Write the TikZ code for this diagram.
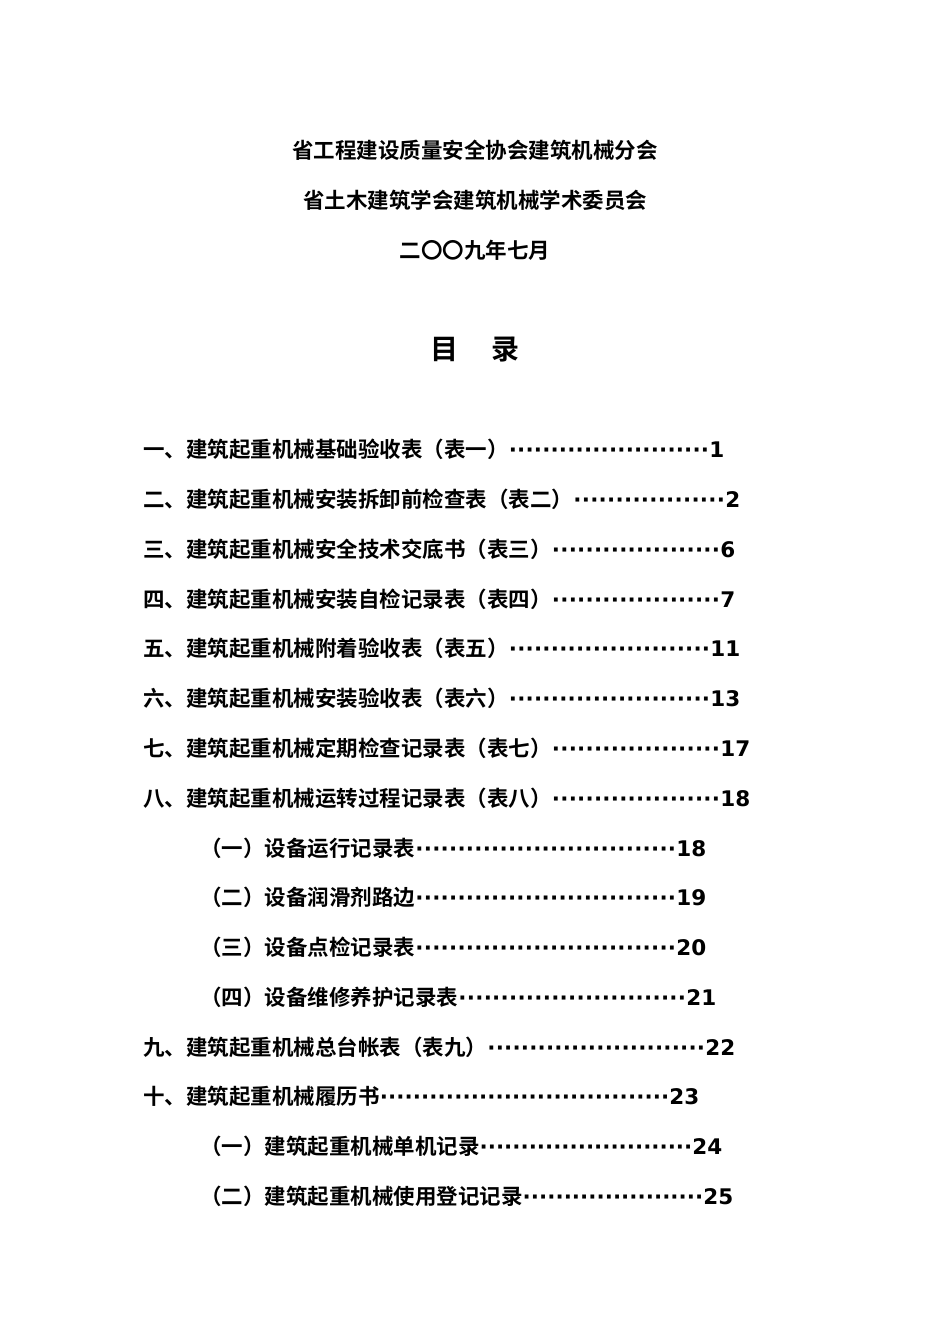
\documentclass[tikz,border=0pt]{standalone}
\usepackage{fontspec}
\setmainfont{Noto Sans CJK SC}[BoldFont={* Bold}]
\newfontfamily\dv{DejaVu Sans}
\newcommand{\tocl}[3]{\makebox[#2][l]{#1\xleaders\hbox{\dv\bfseries ·}\hfill{\dv\bfseries #3}}}
\tikzset{ttl/.style={font=\bfseries\fontsize{21.5}{24}\selectfont,inner sep=0pt},
 toc/.style={anchor=west,font=\bfseries\fontsize{21.5}{24}\selectfont,inner sep=0pt}}
\begin{document}
\begin{tikzpicture}[x=1pt,y=-1pt]
\useasboundingbox[fill=white] (0,0) rectangle (950,1344);
\node[ttl] (t1) at (475,150) {省工程建设质量安全协会建筑机械分会};
\node[ttl] (t2) at (475,200) {省土木建筑学会建筑机械学术委员会};
\node[ttl] (t3) at (475,250) {二〇〇九年七月};
\node[ttl,font=\bfseries\fontsize{28}{30}\selectfont] (h) at (475,350) {目\hspace{1.2em}录};
\node[toc] (a1) at (143,449) {\tocl{一、建筑起重机械基础验收表（表一）}{581pt}{1}};
\node[toc] (a2) at (143,499) {\tocl{二、建筑起重机械安装拆卸前检查表（表二）}{597pt}{2}};
\node[toc] (a3) at (143,549) {\tocl{三、建筑起重机械安全技术交底书（表三）}{592pt}{6}};
\node[toc] (a4) at (143,599) {\tocl{四、建筑起重机械安装自检记录表（表四）}{592pt}{7}};
\node[toc] (a5) at (143,648) {\tocl{五、建筑起重机械附着验收表（表五）}{597pt}{11}};
\node[toc] (a6) at (143,698) {\tocl{六、建筑起重机械安装验收表（表六）}{597pt}{13}};
\node[toc] (a7) at (143,748) {\tocl{七、建筑起重机械定期检查记录表（表七）}{607pt}{17}};
\node[toc] (a8) at (143,798) {\tocl{八、建筑起重机械运转过程记录表（表八）}{607pt}{18}};
\node[toc] (b1) at (200,848) {\tocl{（一）设备运行记录表}{506pt}{18}};
\node[toc] (b2) at (200,897) {\tocl{（二）设备润滑剂路边}{506pt}{19}};
\node[toc] (b3) at (200,947) {\tocl{（三）设备点检记录表}{506pt}{20}};
\node[toc] (b4) at (200,997) {\tocl{（四）设备维修养护记录表}{516pt}{21}};
\node[toc] (a9) at (143,1047) {\tocl{九、建筑起重机械总台帐表（表九）}{592pt}{22}};
\node[toc] (a10) at (143,1096) {\tocl{十、建筑起重机械履历书}{556pt}{23}};
\node[toc] (c1) at (200,1146) {\tocl{（一）建筑起重机械单机记录}{522pt}{24}};
\node[toc] (c2) at (200,1196) {\tocl{（二）建筑起重机械使用登记记录}{533pt}{25}};
\end{tikzpicture}
\end{document}
